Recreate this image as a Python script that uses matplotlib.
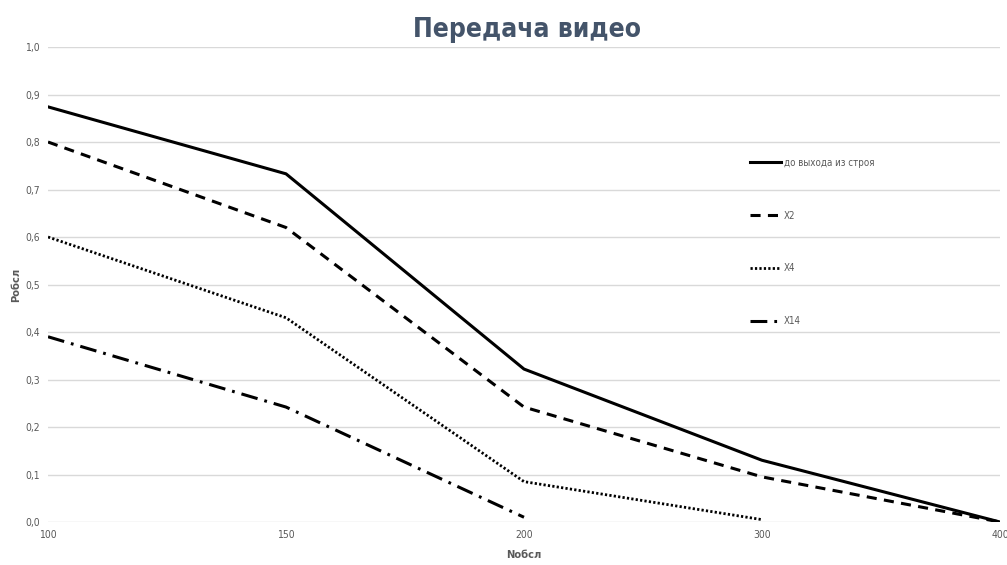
import matplotlib.pyplot as plt
from matplotlib import font_manager

# ── Data ────────────────────────────────────────────────────
categories = ['100', '150', '200', '300', '400']
before_failure = [0.874, 0.733, 0.322, 0.130, 0.000]
x2 = [0.800, 0.620, 0.242, 0.095, 0.000]
x4 = [0.600, 0.430, 0.085, 0.005]
x14 = [0.390, 0.242, 0.010]
series_labels = ['до выхода из строя', 'X2', 'X4', 'X14']

names = {f.name for f in font_manager.fontManager.ttflist}
narrow = 'Liberation Sans Narrow' if 'Liberation Sans Narrow' in names else 'DejaVu Sans'
plt.rcParams['font.family'] = [narrow, 'DejaVu Sans']
plt.rcParams['font.stretch'] = 'condensed'

gray = '#595959'
fig = plt.figure(figsize=(10.07, 5.65), dpi=100)
ax = fig.add_axes([0.0477, 0.0761, 0.9453, 0.8407])

xs = range(len(categories))
ax.plot(xs, before_failure, color='black', lw=2.2, label=series_labels[0])
ax.plot(xs[:len(x2)], x2, color='black', lw=2.2, dashes=(3.3, 2.4), label=series_labels[1])
ax.plot(xs[:len(x4)], x4, color='black', lw=2.0, dashes=(0.8, 0.8), label=series_labels[2])
ax.plot(xs[:len(x14)], x14, color='black', lw=2.2, dashes=(5.5, 2.3, 0.9, 2.3), label=series_labels[3])

ax.set_xlim(0, len(categories) - 1)
ax.set_ylim(0, 1.0)
ax.set_xticks(list(xs))
ax.set_xticklabels(categories)
ax.set_yticks([i / 10 for i in range(11)])
ax.set_yticklabels([f'{i / 10:.1f}'.replace('.', ',') for i in range(11)])
ax.tick_params(length=0, labelsize=7.5, colors=gray, pad=6)
ax.grid(axis='y', color='#d9d9d9', lw=1)
ax.set_axisbelow(True)
for s in ax.spines.values():
    s.set_visible(False)

ax.set_xlabel('Nобсл', fontsize=8, fontweight='bold', color=gray, labelpad=7)
ax.set_ylabel('Pобсл', fontsize=8, fontweight='bold', color=gray, labelpad=3)

fig.text(0.523, 0.947, 'Передача видео', ha='center', va='center',
         fontsize=19, fontweight='bold', color='#44546a')

ax.legend(loc='upper left', bbox_to_anchor=(745 / 1007, 1 - 153 / 565),
          bbox_transform=fig.transFigure, frameon=False, fontsize=7,
          labelcolor=gray, handlelength=3.2, handletextpad=0.3,
          labelspacing=4.4, borderpad=0)

fig.savefig('out.png', dpi=100)
